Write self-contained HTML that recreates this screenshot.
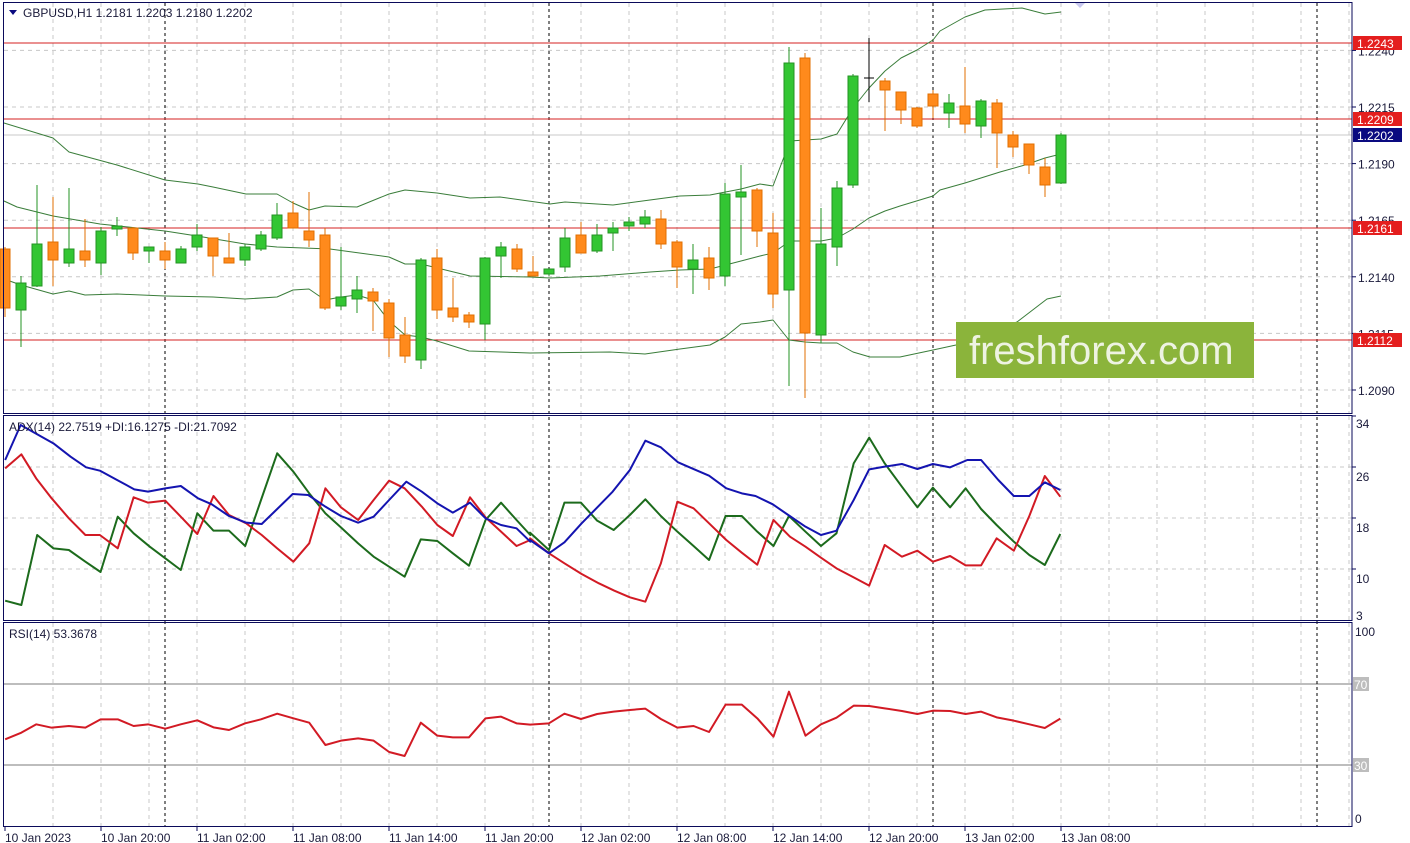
<!DOCTYPE html>
<html><head><meta charset="utf-8"><style>
html,body{margin:0;padding:0;background:#fff;}
svg{display:block;font-family:"Liberation Sans",Tahoma,sans-serif;}
</style></head><body>
<svg id="s" width="1410" height="843" xmlns="http://www.w3.org/2000/svg"></svg>
<script>
const S=document.getElementById('s');let h='';
const py=p=>107+(1.2215-p)*22640;
const G='#c8c8c8';
// grids
function vgrid(y1,y2){for(let x=53;x<1352;x+=48)h+=`<line x1="${x}" y1="${y1}" x2="${x}" y2="${y2}" stroke="${G}" stroke-dasharray="4,4"/>`;}
vgrid(3,413);vgrid(416,620);vgrid(623,826);
[1.2240,1.2215,1.2190,1.2165,1.2140,1.2115,1.2090].forEach(p=>{const y=py(p);h+=`<line x1="4" y1="${y}" x2="1352" y2="${y}" stroke="${G}" stroke-dasharray="4,4"/>`;});
[467,518,569].forEach(y=>h+=`<line x1="4" y1="${y}" x2="1352" y2="${y}" stroke="${G}" stroke-dasharray="4,4"/>`);
// rsi levels
h+=`<line x1="4" y1="684" x2="1352" y2="684" stroke="#bdbdbd" stroke-width="2"/><line x1="4" y1="765" x2="1352" y2="765" stroke="#bdbdbd" stroke-width="2"/>`;
// day separators
[165,549,933,1317].forEach(x=>h+=`<line x1="${x}" y1="3" x2="${x}" y2="826" stroke="#000" stroke-dasharray="3,3"/>`);
// current price line
h+=`<line x1="4" y1="135" x2="1352" y2="135" stroke="#c8c8c8"/>`;
// level lines
[43,119,228,340].forEach(y=>h+=`<line x1="4" y1="${y}" x2="1352" y2="${y}" stroke="#d42020"/>`);
// bollinger
function pl(pts,c,w){h+=`<polyline fill="none" stroke="${c}" stroke-width="${w}" stroke-linejoin="round" points="${pts.map(p=>p.join(',')).join(' ')}"/>`;}
const BC='#3a7d3a';
pl([[4,123],[53,138],[69,152],[117,165],[165,180],[198,184],[213,187],[246,194],[277,194],[293,203],[309,210],[325,206],[357,207],[389,194],[405,190],[437,193],[470,198],[500,197],[550,204],[565,202],[613,205],[650,200],[680,196],[710,195],[741,189],[760,184],[773,186],[790,141],[805,140],[821,139],[837,134],[853,108],[869,88],[885,71],[901,58],[917,50],[933,40],[940,31],[965,17],[985,10],[1022,8],[1045,14],[1061,12]],BC,1);
pl([[4,201],[17,207],[53,216],[100,224],[165,231],[197,236],[245,244],[277,247],[330,249],[389,257],[405,264],[421,264],[470,276],[530,277],[550,278],[600,276],[650,272],[680,270],[710,269],[741,261],[760,256],[773,253],[790,241],[821,241],[837,238],[853,229],[869,218],[885,211],[900,206],[933,196],[940,190],[965,183],[1000,172],[1025,165],[1045,158],[1061,154]],BC,1);
pl([[4,279],[21,285],[53,294],[69,291],[85,295],[117,294],[165,296],[213,297],[245,299],[277,297],[293,290],[309,289],[325,300],[341,297],[357,295],[373,300],[389,321],[405,335],[421,337],[437,341],[469,351],[530,353],[610,352],[645,354],[680,349],[710,345],[725,337],[741,324],[760,322],[773,320],[789,340],[805,342],[821,343],[837,343],[853,352],[870,357],[900,357],[933,350],[956,345],[1017,322],[1047,299],[1061,296]],BC,1);
// candles: [bodyTop,bodyBot,wickTop,wickBot,bull]
const C=[[249,308,247,317,0],[283,310,276,347,1],[244,286,185,287,1],[242,260,197,286,0],[249,263,188,267,1],[251,260,219,267,0],[231,263,227,275,1],[226,229,217,236,1],[228,253,227,260,0],[247,251,247,263,1],[251,260,242,269,0],[249,263,246,263,1],[235,247,224,251,1],[238,256,238,276,0],[258,263,233,263,0],[247,260,244,266,1],[235,249,231,251,1],[215,238,203,240,1],[213,228,201,228,0],[231,240,192,247,0],[235,308,228,310,0],[297,306,247,310,1],[290,299,276,313,1],[292,301,288,331,0],[303,338,299,357,0],[335,356,317,363,0],[260,360,258,369,1],[258,310,249,319,0],[308,317,278,322,0],[315,322,312,328,0],
[258,324,257,340,1],[247,256,242,278,1],[249,269,244,272,0],[272,276,256,276,0],[269,274,269,276,1],[238,267,228,272,1],[235,253,222,253,0],[235,251,224,253,1],[228,233,222,251,1],[222,226,217,231,1],[217,224,210,228,1],[219,244,210,249,0],[242,267,240,288,0],[260,269,244,294,1],[258,278,247,290,0],[194,276,183,286,1],[192,197,165,255,1],[190,231,188,247,0],[233,294,213,308,0],[63,290,47,386,1],[58,333,53,398,0],[244,335,208,343,1],[188,247,181,266,1],[76,185,74,188,1],[78,78,38,102,2],[81,90,78,131,0],[92,110,92,124,0],[108,126,107,128,0],[94,106,90,118,0],[103,113,94,128,1],[106,124,67,133,0],[101,126,99,138,1],[103,133,99,168,0],[135,147,131,157,0],[144,165,144,174,0],[167,185,158,197,0],[135,183,133,184,1]];
C.forEach((c,i)=>{const x=5+16*i;let f,s;if(c[4]==1){f='#33c633';s='#239323';}else if(c[4]==0){f='#ff8a1c';s='#e06f00';}else{f='#000';s='#000';}
h+=`<line x1="${x}" y1="${c[2]}" x2="${x}" y2="${c[3]}" stroke="${c[4]==1?'#239323':s}"/>`;
if(c[4]==2)h+=`<line x1="${x-5}" y1="${c[0]}" x2="${x+5}" y2="${c[0]}" stroke="#000"/>`;
else h+=`<rect x="${x-5}" y="${c[0]}" width="10" height="${Math.max(1,c[1]-c[0])}" fill="${f}" stroke="${s}"/>`;});
// watermark
h+=`<rect x="956" y="322" width="298" height="56" fill="#8bb43b"/><text x="969" y="364" font-size="40" fill="#eef3e2">freshforex.com</text>`;
// ADX & RSI from zoom coords
const cv=(arr,ox,oy)=>arr.map(p=>[ox+p[0]/2.904,oy+p[1]/3]);
const R4=[[15,175],[62,133],[105,205],[150,265],[200,325],[248,375],[290,375],[342,415],[388,262],[430,278],[480,272],[525,320],[573,372],[620,258],[665,315],[715,340],[760,375],[805,415],[852,455],[898,400],[945,235],[990,292],[1040,330],[1085,270],[1130,212],[1175,235],[1225,290],[1270,345],[1315,378],[1365,262],[1410,322],[1455,365],[1500,408],[1540,390]];
const R5=[[0,385],[55,430],[100,460],[150,492],[200,520],[245,542],[290,562],[335,575],[380,460],[428,275],[475,295],[520,340],[570,390],[615,428],[660,464],[707,330],[755,380],[800,410],[845,443],[890,475],[940,502],[985,527],[1030,405],[1080,440],[1125,422],[1170,455],[1220,438],[1265,466],[1310,466],[1355,385],[1405,422],[1450,318],[1495,198],[1540,260]];
const G4=[[15,572],[62,585],[108,375],[155,415],[200,420],[248,455],[292,486],[342,320],[388,370],[435,410],[480,445],[525,480],[573,310],[620,362],[665,362],[712,408],[758,270],[805,130],[852,185],[898,250],[945,310],[990,352],[1040,400],[1085,440],[1130,470],[1175,500],[1222,388],[1270,393],[1315,430],[1362,467],[1410,330],[1455,278],[1500,330],[1540,375]];
const G5=[[0,368],[55,420],[100,278],[148,278],[195,332],[243,360],[290,315],[335,268],[380,318],[428,365],[475,408],[520,450],[568,318],[615,318],[660,365],[707,408],[752,318],[800,365],[845,408],[890,370],[940,160],[985,83],[1030,160],[1080,230],[1125,292],[1170,233],[1220,292],[1265,235],[1310,297],[1355,345],[1405,395],[1450,435],[1495,465],[1540,372]];
const B4=[[15,150],[60,45],[155,100],[205,140],[250,172],[290,182],[340,210],[390,238],[430,245],[480,235],[525,228],[575,265],[615,283],[665,318],[715,338],[760,342],[805,297],[850,252],[895,255],[945,290],[990,318],[1040,338],[1085,320],[1130,270],[1180,215],[1225,245],[1270,280],[1315,308],[1365,278],[1410,325],[1455,345],[1500,355],[1540,395]];
const B5=[[0,390],[55,430],[100,397],[150,340],[240,245],[290,180],[335,92],[380,112],[430,157],[470,175],[520,197],[570,235],[615,250],[655,258],[705,283],[750,315],[800,350],[845,375],[890,362],[940,270],[985,178],[1030,170],[1080,162],[1125,177],[1170,162],[1220,172],[1270,150],[1310,150],[1360,210],[1405,258],[1450,258],[1495,217],[1540,240]];
pl(cv(G4,0,410).concat(cv(G5,530,410)),'#1c6b1c',2);
pl(cv(R4,0,410).concat(cv(R5,530,410)),'#d21a24',2);
pl(cv(B4,0,410).concat(cv(B5,530,410)),'#1414b0',2);
const S7=[[15,358],[62,338],[105,313],[150,323],[200,318],[248,323],[292,298],[342,298],[388,318],[430,313],[480,326],[525,313],[573,301],[620,322],[665,330],[712,310],[758,298],[805,281],[852,295],[898,308],[945,375],[990,362],[1040,355],[1085,362],[1130,396],[1175,408],[1222,308],[1270,347],[1315,352],[1362,352],[1410,295],[1455,290],[1500,310],[1540,314]];
const S8=[[0,314],[55,310],[100,281],[148,297],[195,282],[243,275],[290,270],[335,266],[380,297],[428,323],[475,318],[520,336],[568,254],[615,254],[660,295],[707,350],[752,215],[800,347],[845,313],[890,293],[940,257],[985,258],[1030,265],[1080,273],[1125,282],[1170,272],[1220,273],[1265,282],[1310,275],[1355,292],[1405,302],[1450,313],[1495,324],[1540,296]];
pl(cv(S7,0,620).concat(cv(S8,530,620)),'#d21a24',2);
// frames
const N='#0a0a5a';
h+=`<rect x="3.5" y="2.5" width="1348.5" height="411" fill="none" stroke="${N}"/>`;
h+=`<rect x="3.5" y="415.5" width="1348.5" height="205" fill="none" stroke="${N}"/>`;
h+=`<rect x="3.5" y="622.5" width="1348.5" height="204" fill="none" stroke="${N}"/>`;
// right axis labels
const T='#1a1a3a';
[[1.2240,'1.2240'],[1.2215,'1.2215'],[1.2190,'1.2190'],[1.2165,'1.2165'],[1.2140,'1.2140'],[1.2115,'1.2115'],[1.2090,'1.2090']].forEach(([p,t])=>{const y=py(p);h+=`<line x1="1352" y1="${y}" x2="1356" y2="${y}" stroke="${N}"/><text x="1358" y="${y+5}" font-size="12" fill="${T}">${t}</text>`;});
[[43,'1.2243','#e41e1e'],[119,'1.2209','#e41e1e'],[135,'1.2202','#0a0a80'],[228,'1.2161','#e41e1e'],[340,'1.2112','#e41e1e']].forEach(([y,t,c])=>{h+=`<rect x="1353" y="${y-7}" width="49" height="14" fill="${c}"/><text x="1357" y="${y+5}" font-size="12" fill="#fff">${t}</text>`;});
[[424,'34',416],[477,'26',467],[528,'18',518],[579,'10',569],[616,'3',null]].forEach(([y,t,ty])=>{if(ty)h+=`<line x1="1352" y1="${ty}" x2="1356" y2="${ty}" stroke="${N}"/>`;h+=`<text x="1356" y="${y+4}" font-size="12" fill="${T}">${t}</text>`;});
h+=`<text x="1355" y="636" font-size="12" fill="${T}">100</text><text x="1355" y="823" font-size="12" fill="${T}">0</text>`;
h+=`<rect x="1353" y="677" width="16" height="14" fill="#bdbdbd"/><text x="1354" y="689" font-size="12" fill="#fff">70</text>`;
h+=`<rect x="1353" y="758" width="16" height="14" fill="#bdbdbd"/><text x="1354" y="770" font-size="12" fill="#fff">30</text>`;
// time labels
['10 Jan 2023','10 Jan 20:00','11 Jan 02:00','11 Jan 08:00','11 Jan 14:00','11 Jan 20:00','12 Jan 02:00','12 Jan 08:00','12 Jan 14:00','12 Jan 20:00','13 Jan 02:00','13 Jan 08:00'].forEach((t,i)=>{const x=5+96*i;h+=`<line x1="${x}" y1="826" x2="${x}" y2="831" stroke="${N}"/><text x="${x}" y="842" font-size="12" fill="${T}">${t}</text>`;});
// titles
h+=`<polygon points="9,10 17,10 13,15" fill="#0a0a80"/><text x="23" y="17" font-size="12" fill="${T}">GBPUSD,H1  1.2181 1.2203 1.2180 1.2202</text>`;
h+=`<text x="9" y="431" font-size="12" fill="${T}">ADX(14) 22.7519 +DI:16.1275 -DI:21.7092</text>`;
h+=`<text x="9" y="638" font-size="12" fill="${T}">RSI(14) 53.3678</text>`;
h+=`<polygon points="1075,3 1085,3 1080,8" fill="#c8c8ee"/>`;
S.innerHTML=h;
</script>
</body></html>
